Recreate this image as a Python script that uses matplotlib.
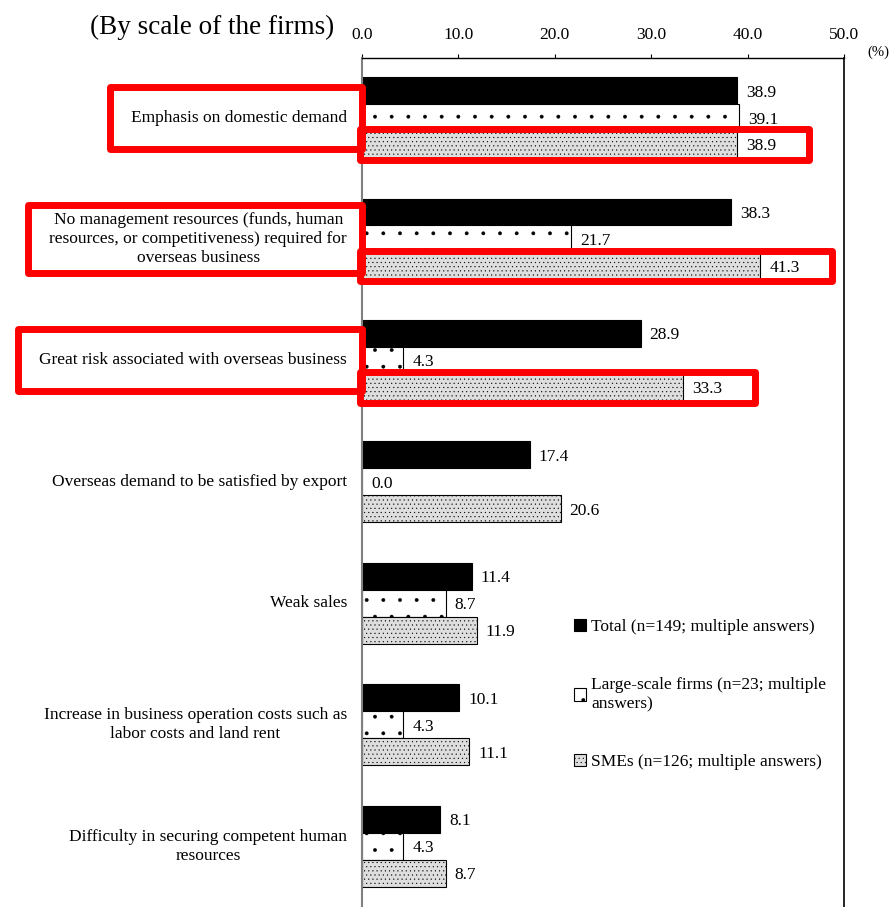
import numpy as np
import matplotlib
matplotlib.use("Agg")
import matplotlib.pyplot as plt
from matplotlib.patches import Rectangle, Patch

plt.rcParams['font.family'] = ['Liberation Serif', 'DejaVu Serif']
plt.rcParams['hatch.linewidth'] = 0.3

# data
categories = [
    "Emphasis on domestic demand",
    "No management resources (funds, human\nresources, or competitiveness) required for\noverseas business",
    "Great risk associated with overseas business",
    "Overseas demand to be satisfied by export",
    "Weak sales",
    "Increase in business operation costs such as\nlabor costs and land rent",
    "Difficulty in securing competent human\nresources",
]
total = [38.9, 38.3, 28.9, 17.4, 11.4, 10.1, 8.1]
large = [39.1, 21.7, 4.3, 0.0, 8.7, 4.3, 4.3]
smes = [38.9, 41.3, 33.3, 20.6, 11.9, 11.1, 8.7]
series_labels = ["Total (n=149; multiple answers)",
                 "Large-scale firms (n=23; multiple\nanswers)",
                 "SMEs (n=126; multiple answers)"]
highlighted = [0, 1, 2]   # categories boxed in red

W, H = 892, 907
fig = plt.figure(figsize=(W / 100, H / 100), dpi=100)
ax = fig.add_axes([362 / W, 0, 482 / W, (H - 58) / H])

y = np.arange(len(categories))
bh = 0.222
styles = [dict(color='black', hatch=None),
          dict(color='white', hatch='.'),
          dict(color='#dedede', hatch='....')]
offsets = [-bh, 0, bh]
for vals, off, st in zip([total, large, smes], offsets, styles):
    ax.barh(y + off, vals, height=bh, color=st['color'], hatch=st['hatch'],
            edgecolor='black', linewidth=0.8)
    for yi, v in zip(y, vals):
        ax.annotate(f"{v:.1f}", (v, yi + off), xytext=(9, -2), textcoords='offset pixels',
                    ha='left', va='center', fontsize=12.5)

ax.set_xlim(0, 50)
ax.set_ylim(6.5, -0.49)
ax.xaxis.tick_top()
ax.set_xticks(np.arange(0, 51, 10))
ax.set_xticklabels([f"{t:.1f}" for t in np.arange(0, 51, 10)], fontsize=12.5)
ax.tick_params(axis='x', length=3, width=0.8, pad=8)
ax.set_yticks([])
ax.spines['left'].set_color('#808080')
ax.spines['left'].set_linewidth(1.5)
ax.spines['right'].set_linewidth(1.2)
ax.spines['top'].set_linewidth(1.0)
ax.spines['bottom'].set_visible(False)

fig.text(878 / W, 1 - 52 / H, "(%)", fontsize=10.5, ha='center', va='center')
fig.text(212 / W, 1 - 27 / H, "(By scale of the firms)", fontsize=19.5, ha='center', va='center')

labels = []
for yi, cat in zip(y, categories):
    t = ax.annotate(cat, (0, yi), xycoords=('axes fraction', 'data'), xytext=(-15, 0),
                    textcoords='offset pixels', ha='right', va='center',
                    multialignment='center', fontsize=12.5, linespacing=1.28)
    labels.append(t)

# legend
handles = [Patch(facecolor=st['color'], edgecolor='black', hatch=st['hatch'], linewidth=0.8)
           for st in styles]
leg = fig.legend(handles, series_labels, loc='upper left', bbox_to_anchor=(574 / W, 1 - 619 / H),
                 frameon=False, fontsize=12.5, handlelength=0.7, handleheight=0.7,
                 handletextpad=0.3, labelspacing=2.4, borderpad=0, borderaxespad=0)
leg.get_texts()[1].set_linespacing(1.3)

# red highlight boxes
red = '#ff0000'
for i in highlighted:
    ax.add_patch(Rectangle((-0.2, i + bh - 0.125), smes[i] + 7.7, 0.25, fill=False,
                           edgecolor=red, linewidth=5, joinstyle='round',
                           clip_on=False, zorder=5))

fig.canvas.draw()
inv = fig.transFigure.inverted()
ax_left = ax.get_window_extent().x0
for i in highlighted:
    bb = labels[i].get_window_extent()
    yc = ax.transData.transform((0, i))[1]
    h = max(bb.height + 14, 62)
    x0, y0 = inv.transform((bb.x0 - 21, yc - h / 2))
    x1, y1 = inv.transform((ax_left, yc + h / 2))
    fig.patches.append(Rectangle((x0, y0), x1 - x0, y1 - y0, fill=False,
                                 edgecolor=red, linewidth=5, joinstyle='round',
                                 transform=fig.transFigure, figure=fig, zorder=5))

fig.savefig("out.png", dpi=100)
